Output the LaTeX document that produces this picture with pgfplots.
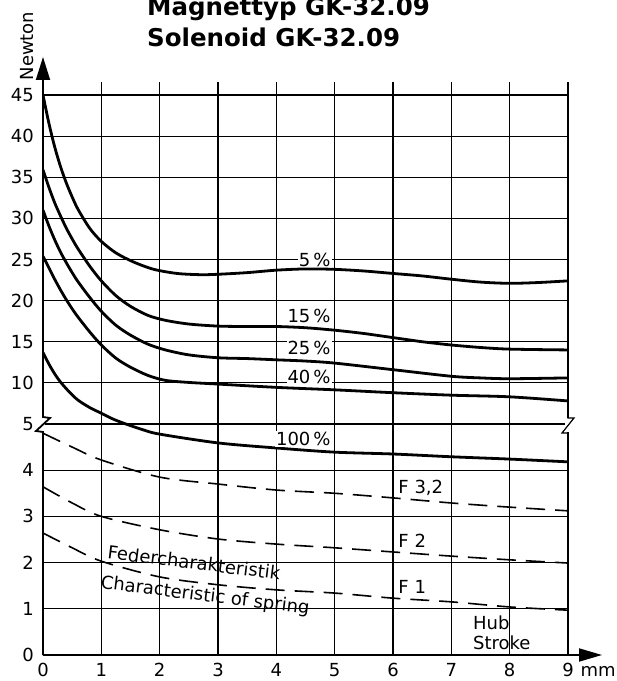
\documentclass[border=0pt]{standalone}
\usepackage{pgfplots}
\pgfplotsset{compat=1.18}
\usepackage{fontspec}
\setmainfont{DejaVu Sans}
\usetikzlibrary{arrows.meta}
\newcommand\lab{\fontsize{18}{21}\selectfont}

\begin{document}
\begin{tikzpicture}
\begin{axis}[
  at={(0,0)}, anchor=south west,
  scale only axis, width=525pt, height=573pt,
  xmin=0, xmax=9, ymin=0, ymax=46.58,
  % broken scale: 0..5 one unit per line, 5..45 five units per line
  y coord trafo/.code={\pgfmathparse{ifthenelse(#1<=5,#1,5+(#1-5)*0.178)}},
  y coord inv trafo/.code={\pgfmathparse{ifthenelse(#1<=5,#1,5+(#1-5)/0.178)}},
  axis line style={draw=none},
  xtick={0,...,9},
  xticklabels={0,1,2,3,4,5,6,7,8,{9\rlap{\hspace{7pt}mm}}},
  ytick={0,1,2,3,4,5,10,15,20,25,30,35,40,45},
  yticklabels={0,1,2,3,4,5,10,15,20,25,30,35,40,45},
  grid=major, major grid style={black, line width=1.1pt},
  major tick length=0pt,
  tick label style={font=\lab, inner sep=0pt},
  xticklabel style={yshift=-8pt},
  yticklabel style={xshift=-9pt},
]
% 5 %
\addplot[black, line width=2.8pt, smooth] coordinates {(0,45) (0.1,41.6) (0.2,38.7) (0.3,36.3) (0.4,34.3) (0.5,32.6) (0.6,31.1) (0.8,28.8) (1,27.2) (1.25,25.8) (1.55,24.7) (1.9,23.8) (2.3,23.3) (2.7,23.15) (3,23.2) (3.5,23.4) (4,23.7) (4.5,23.85) (5,23.8) (5.5,23.6) (6,23.3) (6.5,23.0) (7,22.6) (7.5,22.25) (8,22.1) (8.5,22.2) (9,22.4)};
% 15 %
\addplot[black, line width=2.8pt, smooth] coordinates {(0,35.9) (0.1,33.8) (0.2,31.9) (0.3,30.3) (0.4,28.8) (0.5,27.5) (0.6,26.3) (0.8,24.2) (1,22.4) (1.25,20.6) (1.5,19.3) (1.8,18.2) (2.1,17.6) (2.5,17.15) (3,16.9) (3.5,16.85) (4,16.85) (4.5,16.7) (5,16.4) (5.5,16.0) (6,15.5) (6.5,15.0) (7,14.6) (7.5,14.3) (8,14.1) (9,14.0)};
% 25 %
\addplot[black, line width=2.8pt, smooth] coordinates {(0,31) (0.1,29.1) (0.2,27.4) (0.3,25.9) (0.4,24.6) (0.5,23.4) (0.6,22.3) (0.8,20.4) (1,18.7) (1.25,17.0) (1.5,15.8) (1.8,14.7) (2.1,14.0) (2.5,13.4) (3,13.05) (3.5,12.95) (4,12.8) (4.5,12.65) (5,12.4) (6,11.6) (7,10.8) (7.5,10.6) (8,10.5) (9,10.6)};
% 40 %
\addplot[black, line width=2.8pt, smooth] coordinates {(0,25.4) (0.1,24.0) (0.2,22.6) (0.3,21.3) (0.4,20.1) (0.5,19.0) (0.6,18.0) (0.8,16.2) (1,14.6) (1.25,13.0) (1.5,11.9) (1.8,10.9) (2.1,10.3) (2.5,10.05) (3,9.85) (4,9.45) (5,9.15) (6,8.8) (7,8.5) (8,8.3) (9,7.8)};
% 100 %
\addplot[black, line width=2.8pt, smooth] coordinates {(0,13.7) (0.1,12.3) (0.2,11.1) (0.3,10.1) (0.45,8.9) (0.6,7.9) (0.8,7.0) (1,6.3) (1.2,5.6) (1.4,5.05) (1.7,4.88) (2,4.78) (3,4.59) (4,4.48) (5,4.39) (6,4.35) (7,4.29) (8,4.24) (9,4.18)};
% spring characteristics
\addplot[black, line width=1.6pt, smooth, dash pattern=on 19pt off 10pt] coordinates {(0,4.8) (0.5,4.5) (1,4.22) (2,3.85) (3,3.70) (4,3.57) (5,3.5) (6,3.40) (7,3.29) (8,3.20) (9,3.12)};
\addplot[black, line width=1.6pt, smooth, dash pattern=on 19pt off 10pt] coordinates {(0,3.64) (0.5,3.29) (1,3.0) (2,2.71) (3,2.51) (4,2.40) (5,2.32) (6,2.23) (7,2.14) (8,2.06) (9,1.99)};
\addplot[black, line width=1.6pt, smooth, dash pattern=on 19pt off 10pt] coordinates {(0,2.64) (0.5,2.32) (1,2.03) (2,1.69) (3,1.52) (4,1.41) (5,1.34) (6,1.23) (7,1.15) (8,1.04) (9,0.97)};

\node[anchor=east, fill=white, inner sep=1pt, font=\lab] at (axis cs:4.95,25) {5\,\%};
\node[anchor=east, fill=white, inner sep=1pt, font=\lab] at (axis cs:4.95,18.1) {15\,\%};
\node[anchor=east, fill=white, inner sep=1pt, font=\lab] at (axis cs:4.95,14.2) {25\,\%};
\node[anchor=east, fill=white, inner sep=1pt, font=\lab] at (axis cs:4.95,10.7) {40\,\%};
\node[anchor=east, fill=white, inner sep=1pt, font=\lab] at (axis cs:4.95,4.68) {100\,\%};
\node[anchor=west, inner sep=0pt, font=\lab] at (axis cs:6.09,3.61) {F 3,2};
\node[anchor=west, inner sep=0pt, font=\lab] at (axis cs:6.09,2.47) {F 2};
\node[anchor=west, inner sep=0pt, font=\lab] at (axis cs:6.09,1.47) {F 1};
\node[anchor=west, inner sep=0pt, font=\lab] at (axis cs:7.37,0.69) {Hub};
\node[anchor=west, inner sep=0pt, font=\lab] at (axis cs:7.37,0.26) {Stroke};
\node[rotate=-7, inner sep=0pt, font=\lab] at (axis cs:2.59,2.0) {Federcharakteristik};
\node[rotate=-7, inner sep=0pt, font=\lab] at (axis cs:2.78,1.27) {Characteristic of spring};
\end{axis}

% axis lines with the scale breaks
\draw[line width=1.8pt, -{Triangle[length=23pt,width=13pt]}] (0,0) -- (559pt,0);
\fill[white] (-2pt,224pt) rectangle (2pt,237pt);
\draw[line width=1.8pt, line join=miter, -{Triangle[length=23pt,width=14pt]}]
  (0,0) -- (0,223pt) -- (-7pt,224pt) -- (7pt,237pt) -- (0,238pt) -- (0,598pt);
\fill[white] (522pt,223pt) rectangle (528pt,237pt);
\draw[line width=1.2pt, line join=miter] (525pt,220pt) -- (525pt,222pt) -- (519pt,222pt) -- (531pt,237pt) -- (525pt,237pt) -- (525pt,239pt);

\node[rotate=90, inner sep=0pt, font=\lab] at (-16pt,609pt) {Newton};
\node[anchor=base west, inner sep=0pt, font=\fontsize{24.5}{29}\selectfont\bfseries] at (104pt,639pt) {Magnettyp GK-32.09};
\node[anchor=base west, inner sep=0pt, font=\fontsize{24.5}{29}\selectfont\bfseries] at (104pt,608pt) {Solenoid GK-32.09};

\pgfresetboundingbox
\path[use as bounding box] (-43pt,-26pt) rectangle (574pt,655pt);
\end{tikzpicture}
\end{document}
